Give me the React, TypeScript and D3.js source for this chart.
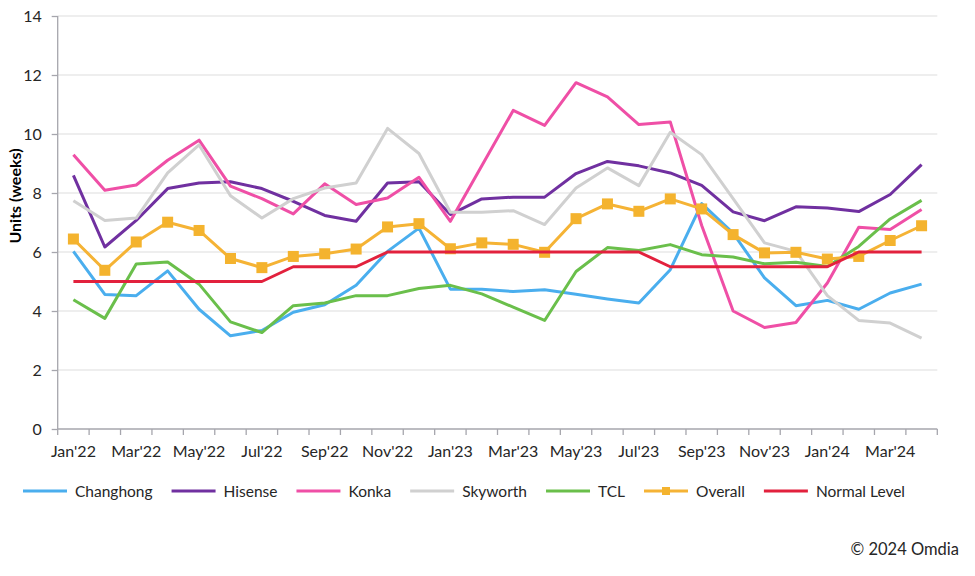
import * as d3 from "d3";
import { useRef, useEffect, ReactElement } from "react";

// months Jan'22 .. Apr'24, only every other one gets a label
const months = [
    "Jan'22", "Feb'22", "Mar'22", "Apr'22", "May'22", "Jun'22", "Jul'22", "Aug'22", "Sep'22", "Oct'22", "Nov'22", "Dec'22",
    "Jan'23", "Feb'23", "Mar'23", "Apr'23", "May'23", "Jun'23", "Jul'23", "Aug'23", "Sep'23", "Oct'23", "Nov'23", "Dec'23",
    "Jan'24", "Feb'24", "Mar'24", "Apr'24",
];

const changhong = [6.02, 4.56, 4.52, 5.36, 4.06, 3.16, 3.34, 3.96, 4.21, 4.87, 6.02, 6.81, 4.74, 4.74, 4.66, 4.72, 4.57, 4.41, 4.27, 5.40, 7.64, 6.64, 5.12, 4.18, 4.36, 4.06, 4.61, 4.91];
const hisense = [8.60, 6.17, 7.07, 8.15, 8.34, 8.38, 8.15, 7.72, 7.24, 7.04, 8.34, 8.38, 7.27, 7.80, 7.86, 7.86, 8.66, 9.07, 8.92, 8.68, 8.26, 7.36, 7.06, 7.53, 7.49, 7.37, 7.95, 8.96];
const konka = [9.30, 8.09, 8.27, 9.11, 9.79, 8.23, 7.81, 7.29, 8.31, 7.61, 7.83, 8.53, 7.04, 8.92, 10.80, 10.29, 11.74, 11.26, 10.32, 10.41, 6.90, 4.00, 3.44, 3.61, 4.95, 6.84, 6.76, 7.44];
const skyworth = [7.74, 7.07, 7.15, 8.68, 9.63, 7.91, 7.15, 7.81, 8.17, 8.34, 10.19, 9.34, 7.35, 7.35, 7.40, 6.93, 8.17, 8.85, 8.25, 10.06, 9.30, 7.81, 6.31, 6.02, 4.52, 3.68, 3.59, 3.08];
const tcl = [4.38, 3.75, 5.59, 5.66, 4.91, 3.63, 3.27, 4.18, 4.27, 4.52, 4.52, 4.76, 4.87, 4.58, 4.13, 3.68, 5.34, 6.15, 6.05, 6.25, 5.91, 5.83, 5.60, 5.65, 5.51, 6.19, 7.12, 7.75];
const overall = [6.44, 5.38, 6.34, 7.01, 6.73, 5.78, 5.47, 5.85, 5.94, 6.10, 6.85, 6.96, 6.11, 6.31, 6.26, 5.99, 7.13, 7.63, 7.38, 7.80, 7.46, 6.59, 5.97, 5.99, 5.76, 5.85, 6.39, 6.89];
const normalLevel = [5, 5, 5, 5, 5, 5, 5, 5.5, 5.5, 5.5, 6, 6, 6, 6, 6, 6, 6, 6, 6, 5.5, 5.5, 5.5, 5.5, 5.5, 5.5, 6, 6, 6];

const yTicks = [0, 2, 4, 6, 8, 10, 12, 14];

const seriesNames = ["Changhong", "Hisense", "Konka", "Skyworth", "TCL", "Overall", "Normal Level"];
const seriesValues = [changhong, hisense, konka, skyworth, tcl, overall, normalLevel];
const seriesColors = ["#4aaeee", "#7030a0", "#ef4fa6", "#d0d0d0", "#6abf4b", "#f5b335", "#e2213d"];

const WIDTH = 975;
const HEIGHT = 576;
const FONT = "Lato, 'Open Sans', sans-serif";

const App = (): ReactElement => {
    const svgRef = useRef<SVGSVGElement>(null);

    useEffect(() => {
        if (!svgRef.current) return;
        const svg = d3.select(svgRef.current);
        svg.selectAll("*").remove();

        const left = 57.7, right = 937.3, top = 16, bottom = 429;

        const x = d3.scaleBand<string>().domain(months).range([left, right]);
        const y = d3.scaleLinear().domain([0, 14]).range([bottom, top]);
        const cx = (i: number) => x(months[i])! + x.bandwidth() / 2;

        // gridlines
        svg.append("g")
            .selectAll("line")
            .data(yTicks.filter(d => d > 0))
            .join("line")
            .attr("x1", left).attr("x2", right)
            .attr("y1", d => y(d)).attr("y2", d => y(d))
            .attr("stroke", "#dedede")
            .attr("stroke-width", 1.2);

        // y axis
        const yAxis = svg.append("g")
            .attr("transform", `translate(${left},0)`)
            .call(d3.axisLeft(y).tickValues(yTicks).tickSize(6).tickPadding(10));
        yAxis.selectAll("path,line").attr("stroke", "#a6a6ad").attr("stroke-width", 1.3);
        yAxis.select(".domain").attr("d", `M0,${bottom}V${top}`);
        yAxis.selectAll("text").attr("font-family", FONT).attr("font-size", 16).attr("fill", "#262626");

        // x axis (labels at band centres, ticks at band edges)
        const xAxis = svg.append("g")
            .attr("transform", `translate(0,${bottom})`)
            .call(d3.axisBottom(x).tickSize(0).tickPadding(17)
                .tickFormat((d, i) => (i % 2 === 0 ? d : "")));
        xAxis.select(".domain").attr("d", `M${left},0H${right}`).attr("stroke", "#a6a6ad").attr("stroke-width", 1.3);
        xAxis.selectAll("text").attr("font-family", FONT).attr("font-size", 16).attr("fill", "#262626");
        xAxis.append("g")
            .selectAll("line")
            .data([...months.map(m => x(m)!), right])
            .join("line")
            .attr("x1", d => d).attr("x2", d => d)
            .attr("y1", 0).attr("y2", 6)
            .attr("stroke", "#a6a6ad").attr("stroke-width", 1.3);

        // y title
        svg.append("text")
            .attr("transform", "translate(21,196) rotate(-90)")
            .attr("text-anchor", "middle")
            .attr("font-family", FONT).attr("font-size", 16).attr("font-weight", "bold")
            .attr("fill", "#000")
            .text("Units (weeks)");

        // lines
        const line = d3.line<number>().x((d, i) => cx(i)).y(d => y(d));
        seriesValues.forEach((vals, s) => {
            svg.append("path")
                .datum(vals)
                .attr("d", line)
                .attr("fill", "none")
                .attr("stroke", seriesColors[s])
                .attr("stroke-width", 3)
                .attr("stroke-linejoin", "round");
            if (seriesNames[s] === "Overall") {
                svg.append("g")
                    .selectAll("rect")
                    .data(vals)
                    .join("rect")
                    .attr("x", (d, i) => cx(i) - 5.5)
                    .attr("y", d => y(d) - 5.5)
                    .attr("width", 11).attr("height", 11)
                    .attr("fill", "#f4b32e");
            }
        });

        // legend
        const legend = svg.append("g").attr("transform", "translate(0,491)");
        let lx = 23;
        seriesNames.forEach((name, s) => {
            const g = legend.append("g").attr("transform", `translate(${lx},0)`);
            g.append("line").attr("x1", 0).attr("x2", 44).attr("y1", 0).attr("y2", 0)
                .attr("stroke", seriesColors[s]).attr("stroke-width", 3);
            if (name === "Overall") {
                g.append("rect").attr("x", 18).attr("y", -4).attr("width", 8).attr("height", 8).attr("fill", "#f4b32e");
            }
            const t = g.append("text").attr("x", 52).attr("y", 5.5)
                .attr("font-family", FONT).attr("font-size", 15.5).attr("fill", "#262626")
                .text(name);
            const w = (t.node() as SVGTextElement).getComputedTextLength();
            lx += 52 + w + 19;
        });

        // source
        svg.append("text")
            .attr("x", 959).attr("y", 555)
            .attr("text-anchor", "end")
            .attr("font-family", FONT).attr("font-size", 16.5).attr("fill", "#262626")
            .text("\u00a9 2024 Omdia");

        return () => { svg.selectAll("*").remove(); };
    }, []);

    return (
        <svg ref={svgRef} width={WIDTH} height={HEIGHT}
            style={{ position: "absolute", left: 0, top: 0, background: "#fff" }} />
    );
};

export default App;
